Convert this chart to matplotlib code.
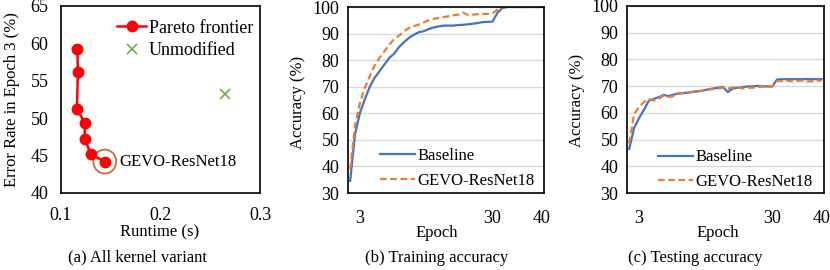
import matplotlib
matplotlib.use("Agg")
import matplotlib.pyplot as plt
from matplotlib.patches import Ellipse

plt.rcParams['font.family'] = ['Liberation Serif', 'DejaVu Serif']
plt.rcParams['mathtext.fontset'] = 'stix'

# ---------- data ----------
pareto_runtime = [0.1164, 0.117, 0.116, 0.124, 0.124, 0.130, 0.144]
pareto_error = [59.3, 56.2, 51.2, 49.4, 47.2, 45.2, 44.2]
unmod_runtime = [0.265]
unmod_error = [53.2]

epochs = list(range(1, 41))
train_baseline = [34.6, 52.1, 60.2, 65.3, 70.0, 73.4, 75.9, 78.4, 80.9, 82.5,
                  85.0, 86.8, 88.4, 89.6, 90.5, 90.9, 91.7, 92.3, 92.7, 93.0,
                  93.0, 93.0, 93.2, 93.3, 93.5, 93.7, 94.0, 94.3, 94.4, 94.5,
                  97.8, 99.6, 100, 100, 100, 100, 100, 100, 100, 100]
train_gevo = [39.0, 55.3, 64.0, 69.6, 74.0, 78.0, 80.9, 83.4, 85.9, 88.0,
              89.3, 90.9, 92.1, 92.8, 93.4, 94.2, 95.0, 95.5, 95.9, 96.2,
              96.5, 96.9, 97.1, 97.9, 97.0, 97.1, 97.3, 97.4, 97.4, 97.6,
              99.0, 99.8, 100, 100, 100, 100, 100, 100, 100, 100]
test_baseline = [46.5, 54.3, 58.0, 61.2, 64.6, 65.2, 65.9, 66.7, 66.3, 66.8,
                 67.3, 67.4, 67.6, 67.9, 68.1, 68.4, 68.8, 69.1, 69.4, 69.7,
                 67.8, 69.1, 69.4, 69.6, 69.9, 69.9, 70.1, 69.9, 69.9, 69.9,
                 72.5, 72.6, 72.6, 72.6, 72.6, 72.6, 72.6, 72.6, 72.6, 72.6]
test_gevo = [48.6, 59.5, 62.3, 64.0, 65.2, 64.6, 65.3, 66.5, 65.9, 66.3,
             67.1, 67.4, 67.5, 67.9, 68.0, 68.3, 68.6, 68.9, 69.1, 69.4,
             69.1, 69.5, 69.5, 69.1, 69.4, 69.4, 69.6, 69.8, 69.9, 69.9,
             71.9, 71.9, 72.0, 71.8, 71.9, 72.1, 71.7, 71.8, 72.0, 72.1]

acc_xticks = [3, 30, 40]
acc_yticks = [30, 40, 50, 60, 70, 80, 90, 100]
a_xticks = [0.1, 0.2, 0.3]
a_yticks = [40, 45, 50, 55, 60, 65]

# ---------- figure ----------
W, H = 830, 270
fig = plt.figure(figsize=(W / 100, H / 100), dpi=100)

def px_axes(l, t, r, b):
    return fig.add_axes([l / W, 1 - b / H, (r - l) / W, (b - t) / H])

FS = 13     # tick labels
LFS = 12    # legends / annotation / axis labels
BLUE = '#4472c4'
ORANGE = '#ed7d31'

# (a)
axa = px_axes(61, 6, 260, 193)
axa.plot(pareto_runtime, pareto_error, color='#ff0000', lw=1.8, marker='o',
         markersize=7.5, label='Pareto frontier')
axa.plot(unmod_runtime, unmod_error, linestyle='none', marker='x',
         color='#70ad47', markersize=7, mew=1.2, label='Unmodified')
axa.set_xlim(0.1, 0.3)
axa.set_ylim(40, 65)
axa.set_xticks(a_xticks)
axa.set_xticklabels(['0.1', '0.2', '0.3'])
axa.set_yticks(a_yticks)
axa.tick_params(length=0, labelsize=FS)
axa.tick_params(axis='y', pad=9)
axa.tick_params(axis='x', pad=10)
ell = Ellipse((pareto_runtime[-1], pareto_error[-1]), width=0.023, height=3.2,
              fill=False, edgecolor='#c0703a', lw=1.3)
axa.add_patch(ell)
axa.text(pareto_runtime[-1] + 0.0145, pareto_error[-1], 'GEVO-ResNet18',
         fontsize=LFS, va='center', ha='left')
axa.legend(loc='upper left', frameon=False, fontsize=13, handlelength=1.6,
           handletextpad=0.15, borderaxespad=0.0, labelspacing=0.3,
           bbox_to_anchor=(0.246, 0.965))
for s in axa.spines.values():
    s.set_color('black')
    s.set_linewidth(1.2)

def acc_axes(ax, base, gevo, anchor):
    ax.plot(epochs, base, color=BLUE, lw=1.6, label='Baseline')
    ax.plot(epochs, gevo, color=ORANGE, lw=1.6, linestyle=(0, (3, 1.6)),
            label='GEVO-ResNet18')
    ax.set_xlim(0.5, 40.5)
    ax.set_ylim(30, 100)
    ax.set_xticks(acc_xticks)
    ax.set_yticks(acc_yticks)
    ax.grid(axis='y', color='#d9d9d9', lw=1.0)
    ax.set_axisbelow(True)
    ax.tick_params(length=0, labelsize=FS)
    ax.tick_params(axis='y', pad=6)
    ax.tick_params(axis='x', pad=12)
    for s in ax.spines.values():
        s.set_color('black')
        s.set_linewidth(1.2)
    ax.legend(loc='lower right', frameon=False, fontsize=LFS, handlelength=2.1,
              handletextpad=0.15, borderaxespad=0.0, borderpad=0.2,
              labelspacing=0.5, bbox_to_anchor=anchor)

axb = px_axes(347.7, 7, 544, 193)
acc_axes(axb, train_baseline, train_gevo, (0.971, 0.006))
axc = px_axes(626.7, 6, 824, 193)
acc_axes(axc, test_baseline, test_gevo, (0.961, 0.0))

# labels
fig.text(160 / W, 1 - 232 / H, 'Runtime (s)', ha='center', va='center', fontsize=LFS)
fig.text(437 / W, 1 - 233 / H, 'Epoch', ha='center', va='center', fontsize=LFS)
fig.text(718 / W, 1 - 233 / H, 'Epoch', ha='center', va='center', fontsize=LFS)
fig.text(12 / W, 1 - 100 / H, 'Error Rate in Epoch 3 (%)', ha='center', va='center',
         rotation=90, fontsize=LFS)
fig.text(298 / W, 1 - 102 / H, 'Accuracy (%)', ha='center', va='center',
         rotation=90, fontsize=LFS)
fig.text(577 / W, 1 - 100 / H, 'Accuracy (%)', ha='center', va='center',
         rotation=90, fontsize=LFS)
fig.text(137 / W, 1 - 257 / H, '(a) All kernel variant', ha='center', va='center', fontsize=12)
fig.text(437 / W, 1 - 258 / H, '(b) Training accuracy', ha='center', va='center', fontsize=12)
fig.text(695 / W, 1 - 258 / H, '(c) Testing accuracy', ha='center', va='center', fontsize=12)

fig.savefig('out.png', dpi=100)
